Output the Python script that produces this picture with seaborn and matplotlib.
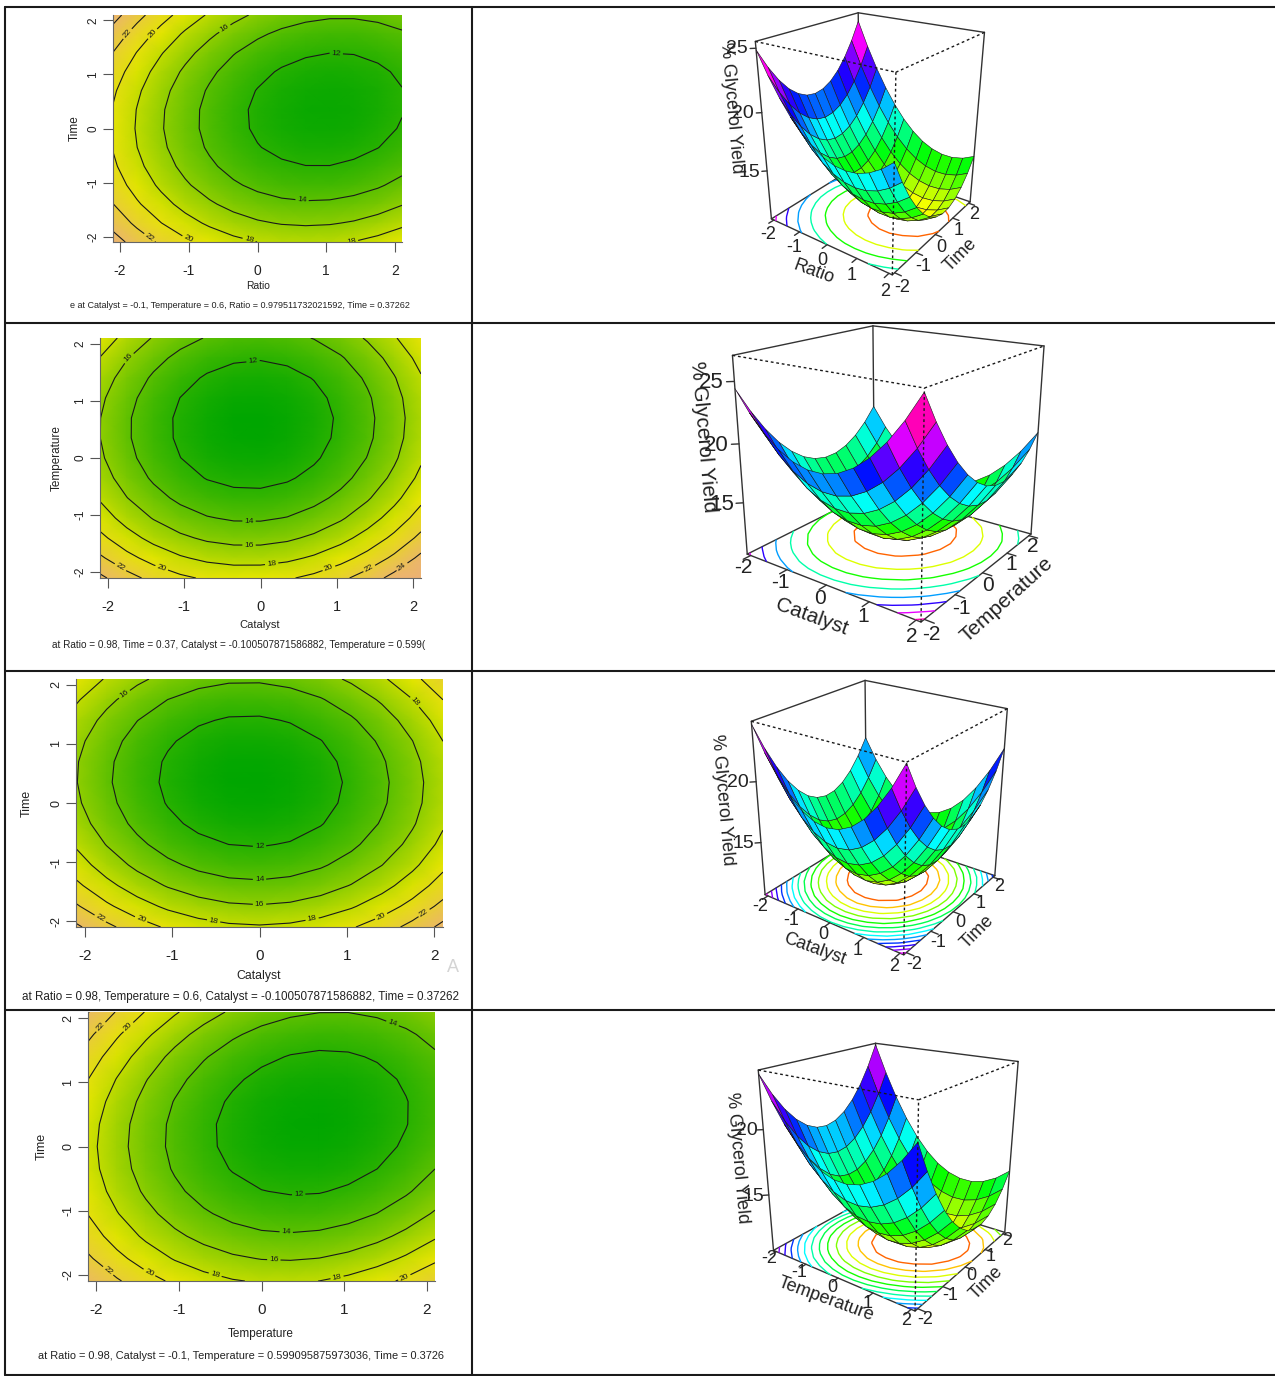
import numpy as np
import matplotlib
matplotlib.use("Agg")
import matplotlib.pyplot as plt
from matplotlib.colors import LinearSegmentedColormap, ListedColormap, Normalize
from matplotlib.lines import Line2D
from mpl_toolkits.mplot3d import proj3d
import seaborn as sns

W, H = 1275, 1376

# response values; rows run from top to bottom, columns left to right
ratio_time = [
 [24.76,22.65,20.79,19.16,17.76,16.59,15.66,14.95,14.49,14.25,14.24,14.47,14.94],
 [23.22,21.14,19.31,17.71,16.35,15.20,14.30,13.63,13.20,12.98,13.01,13.27,13.76],
 [21.96,19.92,18.12,16.55,15.22,14.10,13.23,12.59,12.19,12.01,12.06,12.35,12.88],
 [20.98,18.97,17.20,15.66,14.36,13.28,12.44,11.82,11.45,11.30,11.39,11.71,12.27],
 [20.29,18.31,16.57,15.06,13.79,12.74,11.93,11.35,11.01,10.89,11.00,11.35,11.94],
 [19.88,17.93,16.22,14.74,13.50,12.48,11.70,11.15,10.84,10.75,10.90,11.28,11.90],
 [19.75,17.83,16.15,14.70,13.49,12.50,11.75,11.23,10.95,10.89,11.08,11.49,12.14],
 [19.90,18.01,16.36,14.94,13.76,12.80,12.08,11.60,11.35,11.32,11.53,11.97,12.65],
 [20.34,18.48,16.86,15.47,14.32,13.40,12.71,12.25,12.03,12.03,12.28,12.75,13.46],
 [21.04,19.22,17.63,16.27,15.15,14.26,13.60,13.17,12.98,13.02,13.29,13.79,14.54],
 [22.04,20.25,18.69,17.36,16.28,15.41,14.78,14.39,14.23,14.29,14.60,15.13,15.90],
 [23.32,21.56,20.03,18.73,17.68,16.84,16.24,15.88,15.75,15.85,16.18,16.74,17.55],
 [24.88,23.15,21.65,20.38,19.36,18.55,17.99,17.65,17.56,17.68,18.05,18.64,19.47]]
catalyst_temperature = [
 [19.19,17.35,15.86,14.69,13.88,13.42,13.28,13.50,14.07,14.97,16.21,17.80,19.74],
 [17.94,16.11,14.63,13.48,12.68,12.23,12.11,12.34,12.92,13.83,15.08,16.68,18.63],
 [17.00,15.19,13.72,12.58,11.79,11.35,11.24,11.48,12.07,13.00,14.27,15.88,17.84],
 [16.37,14.57,13.11,11.98,11.21,10.78,10.69,10.94,11.54,12.48,13.76,15.38,17.36],
 [16.04,14.25,12.81,11.69,10.93,10.51,10.43,10.69,11.31,12.26,13.55,15.19,17.17],
 [16.02,14.24,12.81,11.71,10.96,10.55,10.48,10.76,11.39,12.35,13.65,15.30,17.30],
 [16.30,14.53,13.11,12.02,11.29,10.90,10.84,11.13,11.77,12.74,14.06,15.72,17.73],
 [16.89,15.14,13.73,12.65,11.92,11.55,11.50,11.80,12.45,13.44,14.77,16.44,18.46],
 [17.79,16.05,14.65,13.59,12.87,12.51,12.47,12.79,13.45,14.45,15.79,17.48,19.51],
 [18.99,17.26,15.88,14.83,14.12,13.77,13.75,14.07,14.75,15.76,17.11,18.81,20.86],
 [20.50,18.78,17.41,16.37,15.68,15.34,15.33,15.67,16.36,17.38,18.75,20.46,22.52],
 [22.32,20.62,19.26,18.23,17.55,17.22,17.22,17.57,18.28,19.31,20.69,22.41,24.48],
 [24.44,22.75,21.40,20.39,19.72,19.40,19.42,19.78,20.49,21.54,22.93,24.67,26.75]]
catalyst_time = [
 [19.56,17.81,16.41,15.35,14.64,14.28,14.26,14.60,15.28,16.31,17.69,19.41,21.48],
 [18.24,16.48,15.06,13.99,13.27,12.90,12.86,13.19,13.86,14.88,16.25,17.96,20.01],
 [17.23,15.46,14.03,12.94,12.21,11.82,11.78,12.10,12.75,13.76,15.11,16.81,18.86],
 [16.53,14.75,13.30,12.21,11.46,11.06,11.01,11.31,11.95,12.95,14.29,15.98,18.01],
 [16.15,14.36,12.90,11.79,11.03,10.62,10.55,10.84,11.48,12.46,13.79,15.46,17.48],
 [16.08,14.27,12.80,11.68,10.91,10.49,10.41,10.69,11.31,12.28,13.60,15.26,17.27],
 [16.33,14.51,13.03,11.90,11.11,10.68,10.59,10.85,11.46,12.42,13.72,15.37,17.37],
 [16.88,15.05,13.55,12.41,11.61,11.17,11.06,11.32,11.91,12.86,14.15,15.79,17.77],
 [17.76,15.92,14.41,13.25,12.44,11.99,11.87,12.11,12.69,13.63,14.91,16.53,18.50],
 [18.94,17.08,15.56,14.39,13.58,13.11,12.98,13.21,13.78,14.70,15.97,17.58,19.54],
 [20.44,18.57,17.04,15.86,15.03,14.54,14.40,14.62,15.18,16.09,17.34,18.94,20.89],
 [22.25,20.37,18.83,17.63,16.79,16.29,16.14,16.34,16.89,17.79,19.03,20.62,22.55],
 [24.38,22.49,20.93,19.72,18.87,18.36,18.20,18.39,18.92,19.81,21.04,22.61,24.54]]
temperature_time = [
 [24.09,21.86,19.90,18.22,16.83,15.71,14.87,14.32,14.04,14.03,14.31,14.87,15.71],
 [22.43,20.25,18.34,16.70,15.35,14.27,13.47,12.97,12.73,12.77,13.09,13.69,14.57],
 [21.07,18.93,17.06,15.47,14.16,13.12,12.37,11.90,11.71,11.79,12.16,12.80,13.73],
 [20.02,17.92,16.09,14.54,13.28,12.29,11.57,11.15,11.00,11.13,11.53,12.22,13.19],
 [19.26,17.20,15.42,13.91,12.69,11.74,11.07,10.69,10.58,10.75,11.20,11.93,12.94],
 [18.80,16.78,15.04,13.58,12.40,11.49,10.86,10.53,10.46,10.67,11.17,11.94,12.99],
 [18.63,16.66,14.97,13.54,12.41,11.54,10.96,10.67,10.64,10.90,11.43,12.25,13.35],
 [18.77,16.84,15.19,13.81,12.72,11.90,11.36,11.10,11.12,11.42,12.00,12.86,14.00],
 [19.21,17.32,15.71,14.38,13.33,12.55,12.05,11.84,11.90,12.25,12.87,13.77,14.95],
 [19.95,18.10,16.54,15.24,14.24,13.50,13.05,12.88,12.98,13.37,14.03,14.98,16.20],
 [20.98,19.17,17.65,16.40,15.44,14.74,14.33,14.21,14.36,14.78,15.49,16.48,17.75],
 [22.31,20.55,19.07,17.86,16.95,16.30,15.93,15.85,16.04,16.51,17.26,18.29,19.60],
 [23.94,22.23,20.79,19.62,18.75,18.14,17.81,17.77,18.01,18.52,19.31,20.39,21.74]]

grid_values = [-2.1, -1.75, -1.4, -1.05, -0.7, -0.35, 0, 0.35, 0.7, 1.05, 1.4, 1.75, 2.1]
tick_values = [-2, -1, 0, 1, 2]
contour_levels = [12, 14, 16, 18, 20, 22, 24]

panels = [
 dict(z=ratio_time, xn="Ratio", yn="Time",
      cap="e at Catalyst = -0.1, Temperature = 0.6, Ratio = 0.979511732021592, Time = 0.37262",
      ax=(113, 402, 15, 242), xl=(258, 286, 24), yl=75, c=(70, 410, 305), fs=10, yfs=8.5,
      lab=[(1.15, 1.5), (0.65, -1.3), (-0.45, 1.8), (-0.1, -1.95), (1.35, -1.95), (-0.97, -1.95),
           (-1.5, -1.9), (-1.6, 1.85), (-1.93, 1.8)],
      c3=(868, 135), size=400, aspect=1.24, zl=(10.5, 25.5), zt=[15, 20, 25], fs3=13, step=2, zoom=0.695,
      elev=24, f=0.25, xo=(10, 5), yo=(-13, 5), zo=-2,
      xlab=(814, 272, -20), ylab=(960, 255, 45), zlab=(731, 108)),
 dict(z=catalyst_temperature, xn="Catalyst", yn="Temperature",
      cap="at Ratio = 0.98, Time = 0.37, Catalyst = -0.100507871586882, Temperature = 0.599(",
      ax=(100, 421, 338, 578), xl=(260, 625, 40), yl=57, c=(52, 426, 645), fs=10.5, yfs=8.5,
      lab=[(-0.1, 1.72), (-0.15, -1.12), (-0.15, -1.55), (0.15, -1.9), (-1.3, -1.95), (0.9, -1.95),
           (-1.85, -1.95), (1.43, -1.95), (1.85, -1.9), (-1.8, 1.85)],
      c3=(887, 458), size=470, aspect=0.96, zl=(10.4, 27), zt=[15, 20, 25], fs3=15, step=2, zoom=0.75,
      elev=19, f=0.28, xo=(16, 0), yo=(-23, 3), zo=0,
      xlab=(812, 617, -20), ylab=(1007, 600, 42), zlab=(703, 437)),
 dict(z=catalyst_time, xn="Catalyst", yn="Time",
      cap="at Ratio = 0.98, Temperature = 0.6, Catalyst = -0.100507871586882, Time = 0.37262",
      ax=(76, 443, 679, 927), xl=(259, 976, 44), yl=27, c=(22, 460, 997), fs=11, yfs=9,
      lab=[(0, -0.74), (0, -1.3), (0, -1.72), (-0.52, -1.95), (0.6, -1.95), (-1.35, -1.95),
           (1.4, -1.95), (-1.8, -1.9), (1.9, -1.9), (-1.55, 1.85), (1.77, 1.7)],
      c3=(877, 810), size=410, aspect=1.08, zl=(10.4, 24.6), zt=[15, 20], fs3=13, step=1, zoom=0.73,
      elev=25, f=0.33, xo=(10, 0), yo=(-15, 2), zo=0,
      xlab=(815, 949, -20), ylab=(977, 932, 45), zlab=(722, 800)),
 dict(z=temperature_time, xn="Temperature", yn="Time",
      cap="at Ratio = 0.98, Catalyst = -0.1, Temperature = 0.599095875973036, Time = 0.3726",
      ax=(88, 435, 1012, 1281), xl=(261, 1334, 66), yl=42, c=(38, 442, 1356), fs=11, yfs=9,
      lab=[(0.45, -0.75), (0.3, -1.33), (0.15, -1.74), (-0.55, -1.95), (0.9, -1.95), (-1.35, -1.95),
           (1.7, -1.95), (-1.83, -1.9), (-1.93, 1.85), (-1.6, 1.85), (1.6, 1.97)],
      c3=(887, 1164), size=410, aspect=1.07, zl=(10.4, 24.2), zt=[15, 20], fs3=13, step=1, zoom=0.735,
      elev=21, f=0.26, xo=(12, -3), yo=(-17, 0), zo=3,
      xlab=(826, 1299, -20), ylab=(986, 1283, 45), zlab=(737, 1158)),
]

sns.set_theme(style="white")
plt.rcParams["font.family"] = ["Liberation Sans", "DejaVu Sans"]

fig = plt.figure(figsize=(W / 100, H / 100), dpi=100, facecolor="white")
renderer = fig.canvas.get_renderer()

terrain = LinearSegmentedColormap.from_list(
    "terrain_r", [(0, "#00A600"), (0.62, "#E6E600"), (1, "#ECB176")])
rainbow = ListedColormap(sns.color_palette("hsv", 128)[:115])
surf_norm = Normalize(8, 24)
line_norm = Normalize(11, 25)


def px(x, y):
    return x / W, 1 - y / H


def fit(t, width):
    w = t.get_window_extent(renderer).width
    t.set_fontsize(t.get_fontsize() * width / w)


def label3d(a3, x, y, z, s, size, shift=(0, 0)):
    xp, yp, _ = proj3d.proj_transform(x, y, z, a3.get_proj())
    dx, dy = a3.transData.transform((xp, yp))
    fig.text((dx + shift[0]) / W, (dy - shift[1]) / H, s, fontsize=size, ha="center",
             va="center", color="#222222", zorder=10)


for p in panels:
    Z = np.array(p["z"])
    l, r, t, b = p["ax"]
    ax = fig.add_axes([l / W, 1 - b / H, (r - l) / W, (b - t) / H])
    sns.heatmap(Z, ax=ax, cmap=terrain, vmin=10.4, vmax=25, cbar=False,
                shading="gouraud", xticklabels=False, yticklabels=False)
    ax.set_xlim(0, 12)
    ax.set_ylim(12, 0)
    idx = np.arange(13)
    cs = ax.contour(idx, idx, Z, levels=contour_levels, colors="k", linewidths=0.8)
    manual = [((u / 1.05 + 2) * 3, (2 - v / 1.05) * 3) for u, v in p["lab"]]
    ax.clabel(cs, fmt="%d", fontsize=6, inline=True, inline_spacing=2, manual=manual)

    to_i = [(v / 1.05 + 2) * 3 for v in tick_values]
    to_j = [(2 - v / 1.05) * 3 for v in tick_values]
    ax.set_xticks(to_i)
    ax.set_xticklabels([str(v) for v in tick_values], fontsize=p["fs"],
                       color="#222222", rotation=0)
    ax.set_yticks(to_j)
    ax.set_yticklabels([str(v) for v in tick_values], fontsize=p["yfs"], rotation=90,
                       va="center", color="#222222")
    ax.tick_params(axis="x", length=7, width=0.8, color="#555555", pad=9, bottom=True)
    ax.tick_params(axis="y", length=7, width=0.8, color="#555555", pad=3, left=True)
    for side in ("bottom", "left"):
        ax.spines[side].set_visible(True)
        ax.spines[side].set_color("#666666")
        ax.spines[side].set_linewidth(0.8)
    xl_x, xl_y, xl_w = p["xl"]
    tx = fig.text(*px(xl_x, xl_y), p["xn"], fontsize=11, ha="center",
                  va="center", color="#222222")
    fit(tx, xl_w)
    fig.text(*px(p["yl"], (t + b) / 2), p["yn"], fontsize=p["yfs"], rotation=90,
             ha="center", va="center", color="#222222")
    c0, c1, cy = p["c"]
    tc = fig.text(*px(c0, cy), p["cap"], fontsize=10, ha="left",
                  va="center", color="#222222")
    fit(tc, c1 - c0)

    # 3D surface
    cx, cy3 = p["c3"]
    s = p["size"]
    a3 = fig.add_axes([(cx - s / 2) / W, 1 - (cy3 + s / 2) / H, s / W, s / H], projection="3d")
    a3.set_facecolor("none")
    a3.patch.set_visible(False)
    a3.computed_zorder = False
    a3.set_proj_type("persp", focal_length=p["f"])
    a3.view_init(elev=p["elev"], azim=-54)
    a3.set_box_aspect((1, 1, p["aspect"]), zoom=p["zoom"])
    a3.set_xticks([])
    a3.set_yticks([])
    a3.set_zticks([])
    a3.set_axis_off()
    X, Y = np.meshgrid(grid_values, grid_values[::-1])
    zlo, zhi = p["zl"]
    L = 2.1
    solid = [((-L, -L, zlo), (L, -L, zlo)), ((L, -L, zlo), (L, L, zlo)),
             ((L, L, zlo), (-L, L, zlo)), ((-L, L, zlo), (-L, -L, zlo)),
             ((-L, -L, zlo), (-L, -L, zhi)), ((L, L, zlo), (L, L, zhi)),
             ((-L, L, zlo), (-L, L, zhi)), ((-L, -L, zhi), (-L, L, zhi)),
             ((-L, L, zhi), (L, L, zhi))]
    dotted = [((L, -L, zlo), (L, -L, zhi)), ((-L, -L, zhi), (L, -L, zhi)),
              ((L, -L, zhi), (L, L, zhi))]
    for a_, b_ in solid:
        a3.plot(*zip(a_, b_), color="#333333", lw=1.0, zorder=1)
    levels = np.arange(12, 27, p["step"])
    a3.contour(X, Y, Z, levels=levels, zdir="z", offset=zlo, cmap=rainbow, norm=line_norm,
               linewidths=1.0, zorder=2)
    a3.plot_surface(X, Y, Z, rstride=1, cstride=1, cmap=rainbow, norm=surf_norm,
                    edgecolor="k", linewidth=0.4, shade=False, zorder=3)
    for a_, b_ in dotted:
        a3.plot(*zip(a_, b_), color="k", lw=1.0, ls=(0, (2, 2)), zorder=4)
    off, tk = 0.6, 0.2
    for v in tick_values:
        a3.plot([v, v], [-L, -L - tk], [zlo, zlo], color="#333333", lw=1, zorder=4)
        a3.plot([L, L + tk], [v, v], [zlo, zlo], color="#333333", lw=1, zorder=4)
    for v in p["zt"]:
        a3.plot([-L, -L - tk / 2], [-L, -L - tk / 2], [v, v], color="#333333", lw=1, zorder=4)
    a3.set_xlim(-L, L)
    a3.set_ylim(-L, L)
    a3.set_zlim(zlo, zhi)
    for v in tick_values:
        label3d(a3, v, -L - off, zlo, str(v), p["fs3"], p["xo"])
        label3d(a3, L + off, v, zlo, str(v), p["fs3"], p["yo"])
    for v in p["zt"]:
        label3d(a3, -L - 0.3, -L - 0.3, v, str(v), p["fs3"] + 1, (p["zo"], 0))
    for key, name in (("xlab", p["xn"]), ("ylab", p["yn"])):
        lx, ly, rot = p[key]
        fig.text(*px(lx, ly), name, fontsize=p["fs3"], rotation=rot, ha="center", va="center",
                 color="#222222", rotation_mode="anchor", zorder=10)
    fig.text(*px(*p["zlab"]), "% Glycerol Yield", fontsize=p["fs3"], rotation=-85, ha="center",
             va="center", color="#222222", rotation_mode="anchor", zorder=10)

# faint fragment at the cell edge
fig.text(*px(453, 968), "A", fontsize=13, color="#d4d4d4", ha="center", va="center")

# table rules
for y in (7, 323, 671, 1010, 1375):
    fig.add_artist(Line2D([5 / W, 1], [1 - y / H] * 2, color="k", lw=1.5, zorder=20))
for x in (5, 472):
    fig.add_artist(Line2D([x / W] * 2, [1 - 7 / H, 1 - 1375 / H], color="k", lw=1.5, zorder=20))

fig.savefig("out.png", dpi=100, facecolor="white")
